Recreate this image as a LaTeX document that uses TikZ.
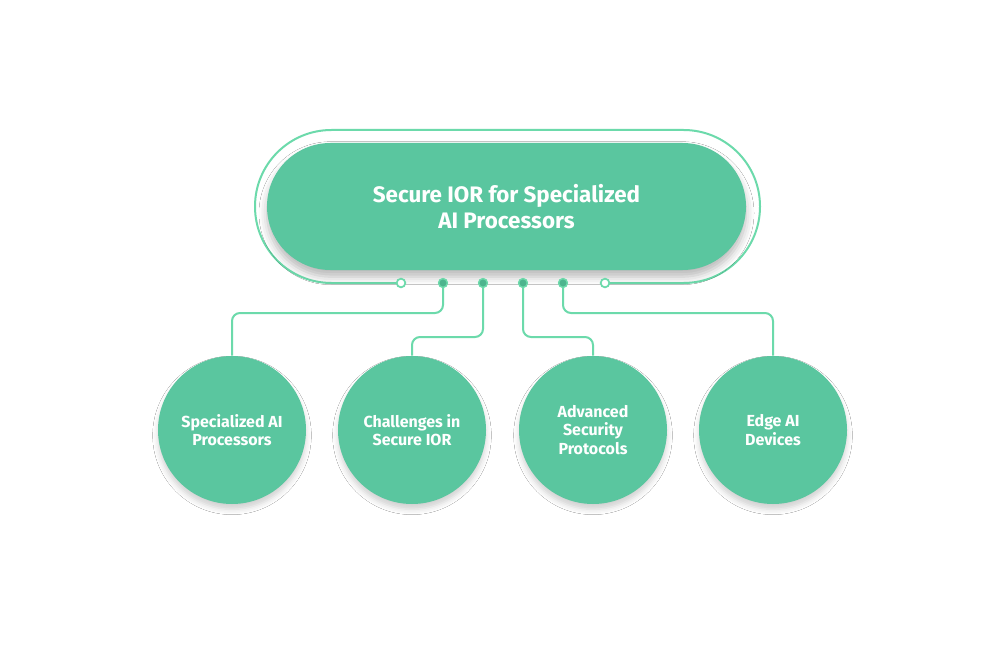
\documentclass[tikz,border=0pt]{standalone}
\usepackage{fontspec}
\setmainfont{Fira Sans}
\usetikzlibrary{shadows.blur}
\definecolor{mint}{HTML}{5AC69F}
\definecolor{linec}{HTML}{6CDAAB}
\definecolor{dotc}{HTML}{4DB48E}
\begin{document}
\begin{tikzpicture}[x=0.75pt,y=-0.75pt,
  pill/.style={rectangle, rounded corners=47.6pt, fill=mint, minimum width=359.25pt, minimum height=95.25pt,
    text=white, font=\fontsize{16.8}{19.5}\selectfont\bfseries, align=center,
    blur shadow={shadow xshift=0pt, shadow yshift=-5pt, shadow blur radius=6pt, shadow opacity=28}},
  topic/.style={circle, fill=mint, minimum size=111pt, inner sep=0pt,
    text=white, font=\fontsize{12}{13.7}\selectfont\bfseries, align=center,
    blur shadow={shadow xshift=0pt, shadow yshift=-4pt, shadow blur radius=4pt, shadow opacity=18}},
  outline/.style={draw=linec, line width=1.5pt},
  conn/.style={draw=linec, line width=1.5pt, rounded corners=6pt},
  fdot/.style={circle, fill=dotc, draw=linec, line width=1pt, minimum size=6.5pt, inner sep=0pt},
  odot/.style={circle, fill=white, draw=linec, line width=1.3pt, minimum size=6.5pt, inner sep=0pt},
]
\useasboundingbox[fill=white] (0,0) rectangle (998,652);

% outer outline
\coordinate (oL) at (397,283);
\coordinate (oR) at (609,283);
\draw[outline, rounded corners=57.3pt] (oL) -- (255,283) -- (255,130) -- (760,130) -- (760,283) -- (oR);

% main pill
\node[pill] (main) at (506.5,206.5) {Secure IOR for Specialized\\AI Processors};

% dots
\node[odot] (ol) at (401,283) {};
\node[odot] (or) at (605,283) {};
\node[fdot] (d1) at (443,283) {};
\node[fdot] (d2) at (483,283) {};
\node[fdot] (d3) at (523,283) {};
\node[fdot] (d4) at (563,283) {};

% circles
\node[topic] (c1) at (232,430) {Specialized AI\\Processors};
\node[topic] (c2) at (412,430) {Challenges in\\Secure IOR};
\node[topic] (c3) at (593,430) {Advanced\\Security\\Protocols};
\node[topic] (c4) at (773,430) {Edge AI\\Devices};

% connectors
\coordinate (b1) at (232,313);
\coordinate (b2) at (412,337);
\coordinate (b3) at (593,337);
\coordinate (b4) at (773,313);
\draw[conn] (d1) |- (b1) -- (c1.north);
\draw[conn] (d2) |- (b2) -- (c2.north);
\draw[conn] (d3) |- (b3) -- (c3.north);
\draw[conn] (d4) |- (b4) -- (c4.north);
\node[fdot] at (d1) {};
\node[fdot] at (d2) {};
\node[fdot] at (d3) {};
\node[fdot] at (d4) {};
\end{tikzpicture}
\end{document}
